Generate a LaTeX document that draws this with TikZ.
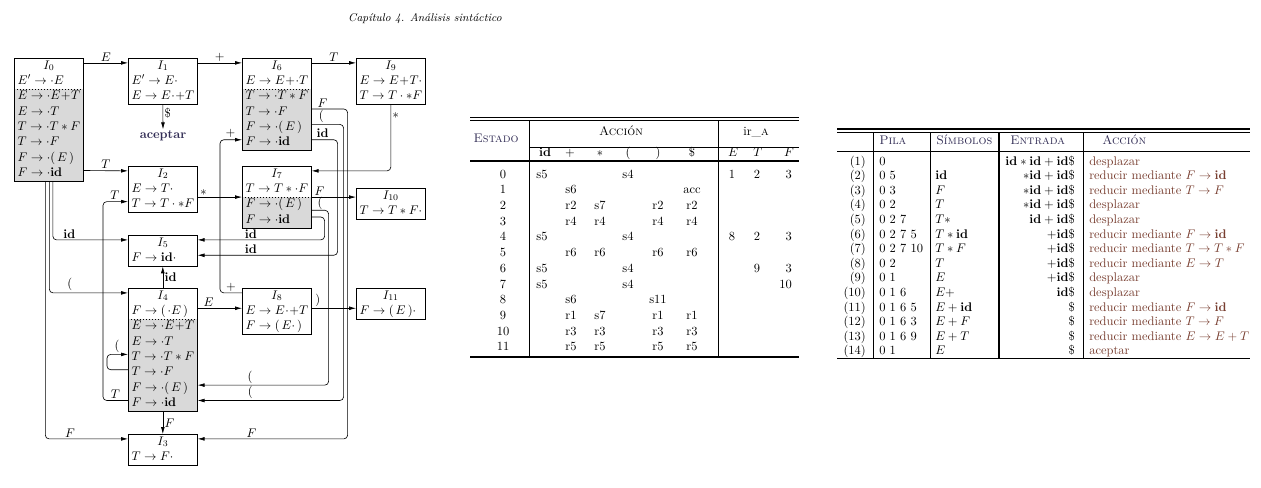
\documentclass[tikz,border=0pt]{standalone}
\usetikzlibrary{positioning,calc,arrows.meta,shapes.multipart}
\definecolor{cafe}{RGB}{120,62,48}
\definecolor{tinta}{RGB}{50,45,85}
\tikzset{estado/.style={rectangle split, rectangle split draw splits=false, draw, line width=0.5pt, text width=50pt, align=left, inner xsep=2.6pt, inner ysep=0pt, anchor=north west}}
\tikzset{cierre/.style={estado, rectangle split part fill={white,white,black!15}}}
\tikzset{flecha/.style={draw, -{Latex[length=5.5pt,width=3pt]}, line width=0.5pt, rounded corners=3pt, nodes={inner sep=1.2pt}}}
\tikzset{eje/.style={yshift=2.5pt}}
\tikzset{celda/.style={inner sep=0pt, text height=7pt, text depth=2pt}}
\tikzset{regla/.style={line width=0.5pt}}
\newcommand{\alto}{\rule[-3.5pt]{0pt}{11.8pt}}
\newcommand{\tit}[1]{\alto\hfill$I_{#1}$\hfill\null}
\newcommand{\reg}[1]{\alto$#1$}
\newcommand{\pto}{{\cdot}}
\newcommand{\bid}{\mathbf{id}}
\begin{document}
\begin{tikzpicture}[x=0.8pt, y=-0.8pt]
\useasboundingbox (0,0) rectangle (1261,487);
\node[font=\small\itshape] (cap) at (425,19) {Capítulo 4.\enspace Análisis sintáctico};
%
\node[cierre, rectangle split parts=8] (I0) at (14,58) {\tit{0}
	\nodepart{two}\reg{E'\to\pto E}
	\nodepart{three}\reg{E\to\pto E+T}
	\nodepart{four}\reg{E\to\pto T}
	\nodepart{five}\reg{T\to\pto T*F}
	\nodepart{six}\reg{T\to\pto F}
	\nodepart{seven}\reg{F\to\pto(\,E\,)}
	\nodepart{eight}\reg{F\to\pto\bid}};
\node[estado, rectangle split parts=3] (I1) at (128,58) {\tit{1}
	\nodepart{two}\reg{E'\to E\pto}
	\nodepart{three}\reg{E\to E\cdot +T}};
\node[cierre, rectangle split parts=6] (I6) at (242,58) {\tit{6}
	\nodepart{two}\reg{E\to E+\pto T}
	\nodepart{three}\reg{T\to\pto T*F}
	\nodepart{four}\reg{T\to\pto F}
	\nodepart{five}\reg{F\to\pto(\,E\,)}
	\nodepart{six}\reg{F\to\pto\bid}};
\node[estado, rectangle split parts=3] (I9) at (356,58) {\tit{9}
	\nodepart{two}\reg{E\to E+T\pto}
	\nodepart{three}\reg{T\to T\cdot{*}F}};
\node[estado, rectangle split parts=3] (I2) at (128,166) {\tit{2}
	\nodepart{two}\reg{E\to T\pto}
	\nodepart{three}\reg{T\to T\cdot{*}F}};
\node[cierre, rectangle split parts=4] (I7) at (242,166) {\tit{7}
	\nodepart{two}\reg{T\to T*\pto F}
	\nodepart{three}\reg{F\to\pto(\,E\,)}
	\nodepart{four}\reg{F\to\pto\bid}};
\node[estado, rectangle split parts=2] (I10) at (356,188) {\tit{10}
	\nodepart{two}\reg{T\to T*F\pto}};
\node[estado, rectangle split parts=2] (I5) at (128,235) {\tit{5}
	\nodepart{two}\reg{F\to\bid\pto}};
\node[cierre, rectangle split parts=8] (I4) at (128,288) {\tit{4}
	\nodepart{two}\reg{F\to(\,\pto E\,)}
	\nodepart{three}\reg{E\to\pto E+T}
	\nodepart{four}\reg{E\to\pto T}
	\nodepart{five}\reg{T\to\pto T*F}
	\nodepart{six}\reg{T\to\pto F}
	\nodepart{seven}\reg{F\to\pto(\,E\,)}
	\nodepart{eight}\reg{F\to\pto\bid}};
\node[estado, rectangle split parts=3] (I8) at (242,288) {\tit{8}
	\nodepart{two}\reg{E\to E\cdot +T}
	\nodepart{three}\reg{F\to(\,E\pto\,)}};
\node[estado, rectangle split parts=2] (I11) at (356,288) {\tit{11}
	\nodepart{two}\reg{F\to(\,E\,)\pto}};
\node[estado, rectangle split parts=2] (I3) at (128,434) {\tit{3}
	\nodepart{two}\reg{T\to F\pto}};
\node[font=\bfseries, text=tinta, inner sep=1pt] (acep) at (163,136) {aceptar};
\foreach \s in {I0,I4,I6,I7}
	\draw[dotted, line width=0.4pt] (\s.two split west) -- (\s.two split east);
%
\draw[flecha] ([eje]I0.text east) -- node[above]{$E$} ([eje]I1.text west);
\draw[flecha] ([eje]I1.text east) -- node[above]{$+$} ([eje]I6.text west);
\draw[flecha] ([eje]I6.text east) -- node[above]{$T$} ([eje]I9.text west);
\draw[flecha] (I1.south) -- node[pos=0.35, right]{\$} (acep.north);
\draw[flecha] ([eje]I0.eight east) -- node[above]{$T$} ([eje]I2.text west);
\draw[flecha] ([xshift=3.2pt]I0.south) |- node[pos=0.61, above]{$\bid$} ([eje]I5.text west);
\draw[flecha] ([xshift=0.4pt]I0.south) |- node[pos=0.63, above]{$($} ([eje]I4.text west);
\draw[flecha] ([xshift=-2.8pt]I0.south) |- node[pos=0.65, above]{$F$} ([eje]I3.text west);
\draw[flecha] (I2.two split east) -- node[pos=0.13, above]{$*$} (I7.two split west);
\draw[flecha] (I9.south) |- node[pos=0.08, right]{$*$} ([eje]I7.text east);
\draw[flecha] (I7.two split east) -- node[pos=0.18, above]{$F$} (I7.two split east -| I10.west);
%
\draw[flecha] ([eje]I6.four east) -- node[pos=0.3, above]{$F$} ++(36,0)
	|- node[pos=0.82, above]{$F$} ([eje]I3.text east);
\draw[flecha] ([eje]I6.five east) -- node[pos=0.3, above]{$($} ++(32,0)
	|- node[pos=0.82, above]{$($} ([eje]I4.eight east);
\draw[flecha] ([eje]I6.six east) -- node[pos=0.42, above]{$\bid$} ++(26,0)
	|- node[pos=0.81, above]{$\bid$} ([eje]I5.two east);
\draw[flecha] ([yshift=-4.4pt]I7.three east) -- node[pos=0.5, above, inner sep=0.2pt]{$($} ++(17,0)
	|- node[pos=0.8, above]{$($} ([eje]I4.seven east);
\draw[flecha] ([eje]I7.four east) -- ++(13,0)
	|- node[pos=0.79, above]{$\bid$} ([eje]I5.text east);
%
\draw[flecha] (I4.north) -- node[right]{$\bid$} (I5.south);
\draw[flecha] (I4.south) -- node[right]{$F$} (I3.north);
\draw[flecha] ([eje]I4.two east) -- node[pos=0.25, above]{$E$} ([eje]I8.two west);
\draw[flecha] ([eje]I8.two east) -- node[pos=0.14, above]{$)$} ([eje]I11.two west);
\draw[flecha] ([eje]I8.text west) -- node[pos=0.5, above]{$+$} ++(-22,0)
	|- node[pos=0.74, above]{$+$} ([eje]I6.six west);
\draw[flecha] ([eje]I4.eight west) -- node[pos=0.5, above]{$T$} ++(-25,0)
	|- node[pos=0.74, above]{$T$} ([eje]I2.three west);
\draw[flecha] ([eje]I4.six west) -- ++(-21,0)
	|- node[pos=0.74, above]{$($} ([eje]I4.five west);
%
% tabla de analisis
\draw[regla] (470,117.5) -- (799,117.5);
\draw[regla] (470,120.5) -- (799,120.5);
\draw[regla] (529,147) -- (799,147);
\draw[line width=1.1pt] (470,161) -- (799,161);
\draw[line width=1.1pt] (470,357) -- (799,357);
\draw[regla] (529,120.5) -- (529,357);
\draw[regla] (718,120.5) -- (718,357);
\node[celda, text=tinta] (estado) at (496,139) {\textsc{Estado}};
\node[celda] (accion) at (621,132) {\textsc{Acción}};
\node[celda] (irA) at (756,132) {ir\_\textsc{a}};
\foreach \t/\x [count=\k] in {$\bid$/545, $+$/570, $*$/600, $($/628, $)$/658, \$/692, $E$/733, $T$/758, $F$/789}
	\node[celda] (h\k) at (\x,153) {\t};
\foreach \n/\xid/\xmas/\xpor/\xab/\xce/\xfin/\gE/\gT/\gF in {
	0/s5/{}/{}/s4/{}/{}/1/2/3,
	1/{}/s6/{}/{}/{}/acc/{}/{}/{},
	2/{}/r2/s7/{}/r2/r2/{}/{}/{},
	3/{}/r4/r4/{}/r4/r4/{}/{}/{},
	4/s5/{}/{}/s4/{}/{}/8/2/3,
	5/{}/r6/r6/{}/r6/r6/{}/{}/{},
	6/s5/{}/{}/s4/{}/{}/{}/9/3,
	7/s5/{}/{}/s4/{}/{}/{}/{}/10,
	8/{}/s6/{}/{}/s11/{}/{}/{}/{},
	9/{}/r1/s7/{}/r1/r1/{}/{}/{},
	10/{}/r3/r3/{}/r3/r3/{}/{}/{},
	11/{}/r5/r5/{}/r5/r5/{}/{}/{}}{
	\node[celda] (e\n) at (503,{175+15.7*\n}) {\n};
	\node[celda] (a\n-1) at (542,{175+15.7*\n}) {\xid};
	\node[celda] (a\n-2) at (571,{175+15.7*\n}) {\xmas};
	\node[celda] (a\n-3) at (600,{175+15.7*\n}) {\xpor};
	\node[celda] (a\n-4) at (628,{175+15.7*\n}) {\xab};
	\node[celda] (a\n-5) at (658,{175+15.7*\n}) {\xce};
	\node[celda] (a\n-6) at (692,{175+15.7*\n}) {\xfin};
	\node[celda] (g\n-1) at (732,{175+15.7*\n}) {\gE};
	\node[celda] (g\n-2) at (757,{175+15.7*\n}) {\gT};
	\node[celda, anchor=east] (g\n-3) at (792,{175+15.7*\n}) {\gF};
}
%
% traza de movimientos
\draw[line width=1pt] (837,129) -- (1250,129);
\draw[regla] (837,132) -- (1250,132);
\draw[regla] (837,151) -- (1250,151);
\draw[line width=0.8pt] (837,358) -- (1250,358);
\draw[regla] (873,132) -- (873,358);
\draw[regla] (930,132) -- (930,358);
\draw[line width=1.2pt] (999,132) -- (999,358);
\draw[regla] (1083,132) -- (1083,358);
\node[celda, anchor=west, text=tinta] (pila) at (879,141) {\textsc{Pila}};
\node[celda, anchor=west, text=tinta] (simb) at (936,141) {\textsc{Símbolos}};
\node[celda, anchor=west, text=tinta] (entr) at (1010,141) {\textsc{Entrada}};
\node[celda, anchor=west, text=tinta] (acc) at (1102,141) {\textsc{Acción}};
\foreach \pila/\simb/\ent/\acc [count=\n] in {
	0/{}/{$\bid*\bid+\bid\$$}/desplazar,
	0 5/{$\bid$}/{$*\bid+\bid\$$}/{reducir mediante $F\to\bid$},
	0 3/{$F$}/{$*\bid+\bid\$$}/{reducir mediante $T\to F$},
	0 2/{$T$}/{$*\bid+\bid\$$}/desplazar,
	0 2 7/{$T*$}/{$\bid+\bid\$$}/desplazar,
	0 2 7 5/{$T*\bid$}/{$+\bid\$$}/{reducir mediante $F\to\bid$},
	0 2 7 10/{$T*F$}/{$+\bid\$$}/{reducir mediante $T\to T*F$},
	0 2/{$T$}/{$+\bid\$$}/{reducir mediante $E\to T$},
	0 1/{$E$}/{$+\bid\$$}/desplazar,
	0 1 6/{$E+$}/{$\bid\$$}/desplazar,
	0 1 6 5/{$E+\bid$}/{\$}/{reducir mediante $F\to\bid$},
	0 1 6 3/{$E+F$}/{\$}/{reducir mediante $T\to F$},
	0 1 6 9/{$E+T$}/{\$}/{reducir mediante $E\to E+T$},
	0 1/{$E$}/{\$}/aceptar}{
	\node[celda, anchor=east] (n\n) at (866,{162+14.6*(\n-1)}) {(\n)};
	\node[celda, anchor=west] (p\n) at (879,{162+14.6*(\n-1)}) {\pila};
	\node[celda, anchor=west] (s\n) at (935,{162+14.6*(\n-1)}) {\simb};
	\node[celda, anchor=east] (t\n) at (1075,{162+14.6*(\n-1)}) {\ent};
	\node[celda, anchor=west, text=cafe] (m\n) at (1089,{162+14.6*(\n-1)}) {\acc};
}
\end{tikzpicture}
\end{document}
